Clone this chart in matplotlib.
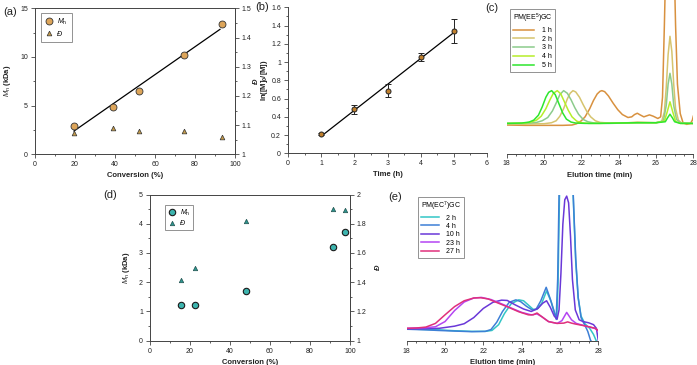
import matplotlib
matplotlib.use("Agg")
import matplotlib.pyplot as plt
from matplotlib.ticker import MultipleLocator, FuncFormatter
import numpy as np

plt.rcParams['font.family'] = ['Liberation Sans', 'DejaVu Sans']
plt.rcParams['mathtext.fontset'] = 'custom'
plt.rcParams['mathtext.rm'] = 'Liberation Sans'
plt.rcParams['mathtext.it'] = 'Liberation Sans:italic'
plt.rcParams['mathtext.bf'] = 'Liberation Sans:bold'

# ---------------- data ----------------
# (a)
a_conv = [19.5, 39, 52, 74.7, 93.5]
a_mn = [2.94, 4.86, 6.53, 10.2, 13.36]
a_disp = [1.072, 1.091, 1.080, 1.080, 1.060]
# (b)
b_time = [1, 2, 3, 4, 5]
b_ln = [0.208, 0.482, 0.686, 1.059, 1.34]
b_err = [0.012, 0.05, 0.07, 0.045, 0.135]
# (c) SEC traces, PM(EE5)GC
c_labels = ['1 h', '2 h', '3 h', '4 h', '5 h']
c_colors = ['#D8913F', '#D6C46E', '#8CCB8C', '#B6EE2A', '#2EE62E']
c1_t = [18, 19, 20, 21, 21.5, 21.75, 22.0, 22.2, 22.45, 22.65, 22.85, 23.0, 23.1, 23.25, 23.45, 23.7, 23.95,
        24.2, 24.5, 24.7, 24.85, 25.0, 25.15, 25.35, 25.55, 25.65, 25.85, 26.1, 26.25, 26.35, 26.45, 26.55,
        26.65, 26.75, 26.85, 26.95, 27.05, 27.15, 27.3, 27.45, 27.65, 27.85, 27.95, 28.0]
c1_v = [-0.05, -0.06, -0.06, -0.06, -0.05, -0.01, 0.08, 0.2, 0.45, 0.7, 0.9, 0.98, 1.0, 0.97, 0.84, 0.62, 0.42,
        0.27, 0.18, 0.2, 0.27, 0.31, 0.26, 0.2, 0.24, 0.26, 0.22, 0.15, 0.2, 0.8, 3.0, 5.5,
        7.5, 8.5, 7.5, 5.5, 3.0, 1.2, 0.3, 0.02, -0.03, 0.0, 0.1, 0.22]
c2_t = [18, 19, 20, 20.4, 20.65, 20.85, 21.05, 21.25, 21.4, 21.55, 21.7, 21.9, 22.1, 22.3, 22.5, 22.75, 23.0,
        23.5, 24.5, 25.0, 25.5, 26.0, 26.3, 26.45, 26.55, 26.65, 26.75, 26.85, 26.95, 27.05, 27.2, 27.4, 28.0]
c2_v = [-0.02, -0.02, -0.01, 0.02, 0.08, 0.22, 0.45, 0.75, 0.92, 1.0, 0.96, 0.8, 0.57, 0.36, 0.2, 0.08, 0.03,
        0.01, 0.02, 0.04, 0.03, 0.02, 0.05, 0.35, 1.1, 2.1, 2.66, 2.2, 1.2, 0.45, 0.1, 0.0, -0.01]
c3_t = [18, 19, 19.6, 19.9, 20.2, 20.45, 20.65, 20.85, 21.05, 21.25, 21.45, 21.65, 21.85, 22.1, 22.35, 22.7,
        23.5, 25.0, 26.0, 26.4, 26.55, 26.65, 26.75, 26.85, 26.95, 27.1, 27.3, 28.0]
c3_v = [0.0, 0.0, 0.03, 0.08, 0.18, 0.38, 0.62, 0.88, 1.0, 0.92, 0.72, 0.48, 0.28, 0.12, 0.05, 0.01,
        0.0, 0.02, 0.02, 0.08, 0.55, 1.2, 1.53, 1.2, 0.55, 0.12, 0.02, 0.0]
c4_t = [18, 19, 19.3, 19.6, 19.85, 20.1, 20.3, 20.5, 20.71, 20.9, 21.1, 21.3, 21.5, 21.75, 22.0, 22.4, 23.0,
        25.0, 26.0, 26.45, 26.6, 26.75, 26.9, 27.05, 27.3, 28.0]
c4_v = [0.0, 0.01, 0.04, 0.1, 0.22, 0.45, 0.7, 0.92, 1.0, 0.9, 0.65, 0.4, 0.2, 0.07, 0.02, 0.0, 0.0,
        0.02, 0.02, 0.07, 0.35, 0.66, 0.35, 0.06, 0.0, 0.0]
c5_t = [18, 18.8, 19.2, 19.45, 19.7, 19.9, 20.1, 20.25, 20.41, 20.6, 20.8, 21.0, 21.2, 21.45, 21.7, 22.2, 23.0,
        25.0, 26.0, 26.5, 26.62, 26.75, 26.88, 27.0, 27.3, 28.0]
c5_v = [0.0, 0.01, 0.04, 0.1, 0.25, 0.5, 0.8, 0.95, 1.0, 0.88, 0.6, 0.32, 0.13, 0.04, 0.01, 0.0, 0.0,
        0.02, 0.02, 0.05, 0.17, 0.28, 0.17, 0.05, 0.0, 0.0]
# (d)
d_conv = [15.5, 22.5, 48, 91.5, 97.3]
d_mn = [1.21, 1.21, 1.69, 3.21, 3.71]
d_disp = [1.418, 1.495, 1.82, 1.904, 1.895]
# (e) SEC traces, PM(EC7)GC
e_labels = ['2 h', '4 h', '10 h', '23 h', '27 h']
e_colors = ['#33C6C6', '#3D7FD6', '#6A38D8', '#B445F2', '#E0307C']
e1_t = [18, 19, 19.65, 20.5, 21.4, 22.1, 22.45, 22.8, 23.1, 23.45, 23.85, 24.1, 24.35, 24.6, 24.8, 25.05, 25.3,
        25.55, 25.83, 25.9, 25.97, 26.05, 26.2, 26.35, 26.5, 26.62, 26.72, 26.82, 26.95, 27.1, 27.3, 27.55,
        27.75, 27.9]
e1_v = [-0.02, -0.04, -0.05, -0.08, -0.1, -0.1, -0.07, 0.12, 0.48, 0.8, 0.93, 0.9, 0.76, 0.62, 0.62, 0.82, 1.22,
        0.85, 0.29, 1.5, 4.2, 6.5, 8.2, 8.5, 7.5, 5.5, 3.8, 2.2, 1.0, 0.4, 0.15, 0.0,
        -0.2, -0.42]
e2_t = [18, 19, 19.65, 20.5, 21.4, 22.1, 22.4, 22.7, 23.0, 23.35, 23.7, 23.95, 24.25, 24.55, 24.75, 25.0, 25.28,
        25.5, 25.8, 25.88, 25.95, 26.03, 26.2, 26.35, 26.5, 26.62, 26.72, 26.82, 26.95, 27.1, 27.3, 27.45,
        27.6, 27.75]
e2_v = [-0.03, -0.05, -0.07, -0.09, -0.11, -0.1, -0.04, 0.2, 0.55, 0.85, 0.93, 0.87, 0.72, 0.6, 0.62, 0.9, 1.34,
        0.95, 0.3, 1.6, 4.3, 6.6, 8.3, 8.6, 7.6, 5.6, 3.9, 2.3, 1.0, 0.35, 0.1, -0.1,
        -0.4, -0.5]
e3_t = [18, 19, 19.7, 20.5, 21.0, 21.5, 22.0, 22.5, 22.95, 23.25, 23.65, 24.1, 24.5, 24.85, 25.1, 25.3, 25.5,
        25.7, 25.85, 25.95, 26.05, 26.15, 26.25, 26.35, 26.45, 26.55, 26.65, 26.8, 27.0, 27.2, 27.5, 27.75,
        27.9, 28.0]
e3_v = [-0.02, -0.01, 0.0, 0.07, 0.15, 0.35, 0.65, 0.85, 0.92, 0.91, 0.77, 0.63, 0.55, 0.65, 0.82, 0.9, 0.68,
        0.4, 0.3, 0.6, 1.8, 3.4, 4.2, 4.32, 4.1, 3.0, 1.6, 0.6, 0.28, 0.22, 0.18, 0.12,
        0.0, -0.4]
e4_t = [18, 19.0, 19.5, 20.0, 20.5, 21.0, 21.5, 21.9, 22.4, 22.95, 23.5, 24.0, 24.5, 24.8, 25.05, 25.4, 25.85,
        26.1, 26.35, 26.6, 26.85, 27.3, 27.8, 28.0]
e4_v = [0.0, 0.02, 0.05, 0.22, 0.58, 0.86, 0.99, 1.01, 0.94, 0.8, 0.65, 0.52, 0.44, 0.47, 0.38, 0.22, 0.16,
        0.25, 0.52, 0.28, 0.16, 0.08, 0.0, -0.08]
e5_t = [18, 18.5, 19.0, 19.5, 20.0, 20.5, 21.0, 21.5, 21.85, 22.25, 22.75, 23.3, 23.85, 24.35, 24.6, 24.8, 25.05,
        25.4, 25.85, 26.2, 26.4, 26.6, 26.8, 27.3, 27.85, 28.0]
e5_v = [0.0, 0.01, 0.04, 0.16, 0.44, 0.71, 0.9, 0.99, 1.0, 0.96, 0.83, 0.69, 0.54, 0.44, 0.44, 0.5, 0.38,
        0.22, 0.16, 0.17, 0.21, 0.17, 0.14, 0.08, 0.0, -0.08]

# ---------------- styling helpers ----------------
W, H = 697, 365
fig = plt.figure(figsize=(W / 100, H / 100), dpi=100)
SP = '#444444'
TXT = '#222222'
TFS = 5
LFS = 5.5


def rect(l, r, t, b):
    return [l / W, (H - b) / H, (r - l) / W, (b - t) / H]


def style(ax, sides):
    for s in ['left', 'right', 'top', 'bottom']:
        ax.spines[s].set_visible(s in sides)
        ax.spines[s].set_color(SP)
        ax.spines[s].set_linewidth(0.7)
    ax.tick_params(which='both', direction='out', colors=SP, labelcolor=TXT, labelsize=TFS, width=0.6, pad=2)
    ax.tick_params(which='major', length=3)
    ax.tick_params(which='minor', length=1.6)


gfmt = FuncFormatter(lambda v, p: '%g' % round(v, 3))

# ---------------- (a) ----------------
axa = fig.add_axes(rect(35, 235, 8.3, 154.3))
style(axa, ['left', 'bottom', 'top', 'right'])
axa2 = axa.twinx()
style(axa2, ['right'])
fit = np.polyfit(a_conv, a_mn, 1)
xs = np.array([min(a_conv), max(a_conv) - 1])
axa.plot(xs, np.polyval(fit, xs), color='black', lw=0.9, zorder=2)
h1, = axa.plot(a_conv, a_mn, 'o', ms=5, mfc='#DDA55A', mec='#333333', mew=0.6, zorder=3, label=r'$M_\mathrm{n}$')
h2, = axa2.plot(a_conv, a_disp, '^', ms=3.4, mfc='#C49A4A', mec='#333333', mew=0.5, label='Đ')
axa.set_xlim(0, 100)
axa.set_ylim(0, 15)
axa2.set_ylim(1, 1.5)
axa.xaxis.set_major_locator(MultipleLocator(20))
axa.xaxis.set_minor_locator(MultipleLocator(10))
axa.yaxis.set_major_locator(MultipleLocator(5))
axa.yaxis.set_minor_locator(MultipleLocator(2.5))
axa2.yaxis.set_major_locator(MultipleLocator(0.1))
axa2.yaxis.set_minor_locator(MultipleLocator(0.05))
axa2.yaxis.set_major_formatter(gfmt)
axa.set_xlabel('Conversion (%)', fontsize=LFS, fontweight='bold', color=TXT, labelpad=3)
axa.set_ylabel(r'$M_\mathrm{n}$ (kDa)', fontsize=LFS, fontweight='bold', color=TXT, labelpad=5)
axa2.set_ylabel('Đ', fontsize=LFS, fontweight='bold', fontstyle='italic', color=TXT, labelpad=1)
lega = axa.legend(handles=[h1, h2], loc='upper left', bbox_to_anchor=(0.028, 0.97), borderaxespad=0,
                  fontsize=5, frameon=True, fancybox=False, edgecolor='#777777', handlelength=1.2,
                  handletextpad=0.6, borderpad=0.6, labelspacing=0.5)
lega.get_frame().set_linewidth(0.7)
lega.get_texts()[1].set_fontstyle('italic')
fig.text(10 / W, 1 - 12 / H, '(a)', fontsize=8, color=TXT, ha='center', va='center')

# ---------------- (b) ----------------
axb = fig.add_axes(rect(288, 487, 7.3, 153.3))
style(axb, ['left', 'bottom'])
fitb = np.polyfit(b_time, b_ln, 1)
xb = np.array([min(b_time), max(b_time)])
axb.plot(xb, np.polyval(fitb, xb), color='black', lw=0.9, zorder=2)
axb.errorbar(b_time, b_ln, yerr=b_err, fmt='o', ms=3.6, mfc='#C0802E', mec='#222222', mew=0.7,
             ecolor='#222222', elinewidth=0.7, capsize=2, capthick=0.7, zorder=3)
axb.set_xlim(0, 6)
axb.set_ylim(0, 1.6)
axb.xaxis.set_major_locator(MultipleLocator(1))
axb.xaxis.set_minor_locator(MultipleLocator(0.5))
axb.yaxis.set_major_locator(MultipleLocator(0.2))
axb.yaxis.set_minor_locator(MultipleLocator(0.1))
axb.yaxis.set_major_formatter(gfmt)
axb.set_xticks([0, 1, 2, 3, 4, 5, 6])
axb.set_xlabel('Time (h)', fontsize=LFS, fontweight='bold', color=TXT, labelpad=3)
axb.set_ylabel(r'ln([M]$_\mathbf{0}$/[M])', fontsize=LFS, fontweight='bold', color=TXT, labelpad=1)
fig.text(262 / W, 1 - 7 / H, '(b)', fontsize=8, color=TXT, ha='center', va='center')

# ---------------- (c) ----------------
axc = fig.add_axes(rect(506.7, 693.3, 0, 153.5))
style(axc, ['bottom'])
c_t = [c1_t, c2_t, c3_t, c4_t, c5_t]
c_v = [c1_v, c2_v, c3_v, c4_v, c5_v]
for t, v, col, lab in zip(c_t, c_v, c_colors, c_labels):
    axc.plot(t, v, color=col, lw=1.1, label=lab)
axc.set_xlim(18, 28)
axc.set_ylim(-0.92, 3.77)
axc.set_yticks([])
axc.xaxis.set_major_locator(MultipleLocator(2))
axc.xaxis.set_minor_locator(MultipleLocator(0.5))
axc.set_xlabel('Elution time (min)', fontsize=LFS, fontweight='bold', color=TXT, labelpad=3)
legc = axc.legend(loc='upper left', bbox_to_anchor=(0.018, 0.94), borderaxespad=0, fontsize=5,
                  title='PM(EE$^5$)GC', title_fontsize=5, frameon=True, fancybox=False,
                  edgecolor='#777777', handlelength=3.0, handletextpad=1.2, borderpad=0.4,
                  labelspacing=0.25)
legc.get_frame().set_linewidth(0.7)
fig.text(492 / W, 1 - 8 / H, '(c)', fontsize=8, color=TXT, ha='center', va='center')

# ---------------- (d) ----------------
axd = fig.add_axes(rect(150, 350, 194.5, 340.7))
style(axd, ['left', 'bottom', 'top', 'right'])
axd2 = axd.twinx()
style(axd2, ['right'])
hd1, = axd.plot(d_conv, d_mn, 'o', ms=4.6, mfc='#3CB4AE', mec='#1A1A1A', mew=0.8, label=r'$M_\mathrm{n}$')
hd2, = axd2.plot(d_conv, d_disp, '^', ms=3.2, mfc='#2E9690', mec='#1F4F4C', mew=0.5, label='Đ')
axd.set_xlim(0, 100)
axd.set_ylim(0, 5)
axd2.set_ylim(1, 2)
axd.xaxis.set_major_locator(MultipleLocator(20))
axd.xaxis.set_minor_locator(MultipleLocator(10))
axd.yaxis.set_major_locator(MultipleLocator(1))
axd.yaxis.set_minor_locator(MultipleLocator(0.5))
axd2.yaxis.set_major_locator(MultipleLocator(0.2))
axd2.yaxis.set_minor_locator(MultipleLocator(0.1))
axd2.yaxis.set_major_formatter(gfmt)
axd.set_xlabel('Conversion (%)', fontsize=LFS, fontweight='bold', color=TXT, labelpad=3)
axd.set_ylabel(r'$M_\mathrm{n}$ (kDa)', fontsize=LFS, fontweight='bold', color=TXT, labelpad=5)
axd2.set_ylabel('Đ', fontsize=LFS, fontweight='bold', fontstyle='italic', color=TXT, labelpad=6)
legd = axd.legend(handles=[hd1, hd2], loc='upper left', bbox_to_anchor=(0.075, 0.928), borderaxespad=0,
                  fontsize=5, frameon=True, fancybox=False, edgecolor='#777777', handlelength=1.2,
                  handletextpad=0.6, borderpad=0.4, labelspacing=0.3)
legd.get_frame().set_linewidth(0.7)
legd.get_texts()[1].set_fontstyle('italic')
fig.text(110 / W, 1 - 195 / H, '(d)', fontsize=8, color=TXT, ha='center', va='center')

# ---------------- (e) ----------------
axe = fig.add_axes(rect(406.7, 598.3, 195, 340.7))
style(axe, ['bottom'])
e_t = [e1_t, e2_t, e3_t, e4_t, e5_t]
e_v = [e1_v, e2_v, e3_v, e4_v, e5_v]
for t, v, col, lab in zip(e_t, e_v, e_colors, e_labels):
    axe.plot(t, v, color=col, lw=1.1, label=lab)
axe.set_xlim(18, 28)
axe.set_ylim(-0.405, 4.356)
axe.set_yticks([])
axe.xaxis.set_major_locator(MultipleLocator(2))
axe.xaxis.set_minor_locator(MultipleLocator(0.5))
axe.set_xlabel('Elution time (min)', fontsize=LFS, fontweight='bold', color=TXT, labelpad=3)
lege = axe.legend(loc='upper left', bbox_to_anchor=(0.059, 0.986), borderaxespad=0, fontsize=5,
                  title='PM(EC$^7$)GC', title_fontsize=5, frameon=True, fancybox=False,
                  edgecolor='#777777', handlelength=2.6, handletextpad=1.0, borderpad=0.4,
                  labelspacing=0.2)
lege.get_frame().set_linewidth(0.7)
fig.text(395 / W, 1 - 197 / H, '(e)', fontsize=8, color=TXT, ha='center', va='center')

fig.savefig('out.png', dpi=100)
